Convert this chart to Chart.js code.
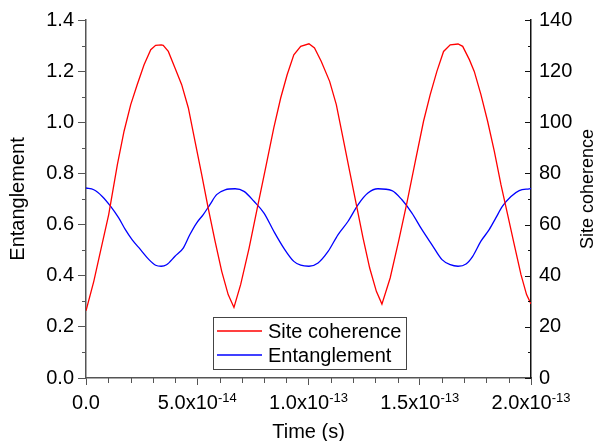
<!DOCTYPE html>
<html>
<head>
<meta charset="utf-8">
<script src="https://cdn.jsdelivr.net/npm/chart.js@4.4.0/dist/chart.umd.min.js"></script>
<style>
  body { margin: 0; background: #fff; }
  canvas { display: block; }
</style>
</head>
<body>
<canvas id="myChart" width="598" height="441"></canvas>
<script>
// Time in seconds
const coherenceTimes = [
  0, 0.35e-14, 0.65e-14, 1.02e-14, 1.41e-14, 1.71e-14, 2.01e-14, 2.30e-14, 2.61e-14, 2.91e-14,
  3.13e-14, 3.38e-14, 3.47e-14, 3.70e-14, 4.00e-14, 4.30e-14, 4.60e-14, 4.90e-14, 5.20e-14, 5.49e-14,
  5.80e-14, 6.10e-14, 6.39e-14, 6.65e-14, 6.95e-14, 7.33e-14, 7.70e-14, 8.07e-14, 8.44e-14, 8.75e-14,
  9.04e-14, 9.34e-14, 9.65e-14, 10.02e-14, 10.27e-14, 10.57e-14, 10.95e-14, 11.25e-14, 11.55e-14, 11.85e-14,
  12.15e-14, 12.45e-14, 12.75e-14, 13.05e-14, 13.30e-14, 13.67e-14, 14.05e-14, 14.42e-14, 14.80e-14, 15.17e-14,
  15.47e-14, 15.77e-14, 16.07e-14, 16.37e-14, 16.72e-14, 16.93e-14, 17.23e-14, 17.45e-14, 17.75e-14, 18.05e-14,
  18.35e-14, 18.65e-14, 18.95e-14, 19.25e-14, 19.55e-14, 19.80e-14, 20.0e-14
];
const coherenceValues = [
  26.3, 37.8, 49.5, 63.9, 83.4, 96.5, 106.9, 114.7, 122.5, 128.4,
  130.1, 130.3, 130.1, 127.7, 121.2, 114.7, 105.6, 92.5, 79.5, 66.5,
  53.5, 41.7, 32.6, 27.6, 36.5, 50.8, 66.5, 82.1, 97.8, 109.5,
  118.6, 126.4, 129.7, 130.7, 129.1, 123.9, 116.0, 106.9, 93.9, 80.8,
  67.8, 54.8, 43.0, 33.9, 28.9, 39.1, 53.5, 68.4, 84.7, 100.4,
  110.8, 119.9, 127.7, 130.3, 130.6, 129.7, 124.5, 119.9, 110.8, 100.4,
  88.7, 75.6, 63.9, 52.1, 40.4, 32.6, 29.0
];

const entanglementTimes = [
  0, 0.35e-14, 0.73e-14, 1.10e-14, 1.47e-14, 1.77e-14, 2.07e-14, 2.45e-14, 2.83e-14, 3.13e-14,
  3.38e-14, 3.62e-14, 4.00e-14, 4.37e-14, 4.67e-14, 4.97e-14, 5.27e-14, 5.57e-14, 5.87e-14, 6.25e-14,
  6.70e-14, 7.10e-14, 7.55e-14, 8.00e-14, 8.44e-14, 8.89e-14, 9.34e-14, 9.65e-14, 10.02e-14, 10.43e-14,
  10.88e-14, 11.33e-14, 11.78e-14, 12.23e-14, 12.67e-14, 13.12e-14, 13.75e-14, 14.20e-14, 14.65e-14, 15.10e-14,
  15.55e-14, 16.00e-14, 16.37e-14, 16.72e-14, 17.08e-14, 17.38e-14, 17.75e-14, 18.12e-14, 18.42e-14, 18.72e-14,
  19.10e-14, 19.47e-14, 19.92e-14, 20.0e-14
];
const entanglementValues = [
  0.743, 0.736, 0.710, 0.672, 0.626, 0.580, 0.541, 0.502, 0.463, 0.441,
  0.437, 0.443, 0.476, 0.508, 0.561, 0.606, 0.639, 0.678, 0.717, 0.736,
  0.740, 0.730, 0.691, 0.645, 0.574, 0.508, 0.456, 0.441, 0.437, 0.450,
  0.495, 0.561, 0.613, 0.678, 0.723, 0.740, 0.733, 0.697, 0.645, 0.580,
  0.521, 0.463, 0.443, 0.437, 0.446, 0.476, 0.535, 0.580, 0.626, 0.672,
  0.710, 0.733, 0.740, 0.741
];

// tick positions
const timeTicks = [0, 5e-14, 1e-13, 1.5e-13, 2e-13];
const timeMinorTicks = [1e-14, 2e-14, 3e-14, 4e-14, 6e-14, 7e-14, 8e-14, 9e-14,
  11e-14, 12e-14, 13e-14, 14e-14, 16e-14, 17e-14, 18e-14, 19e-14];
const entanglementTicks = [0, 0.2, 0.4, 0.6, 0.8, 1.0, 1.2, 1.4];
const entanglementMinorTicks = [0.1, 0.3, 0.5, 0.7, 0.9, 1.1, 1.3];
const coherenceTicks = [0, 20, 40, 60, 80, 100, 120, 140];
const coherenceMinorTicks = [10, 30, 50, 70, 90, 110, 130];

const FONT = 'Liberation Sans, Arial, sans-serif';
const axisGray = '#555555';

function toPoints(xs, ys) {
    return xs.map((t, i) => ({ x: t, y: ys[i] }));
}

function setTicks(values) {
    return function(scale) {
        scale.ticks = values.map(v => ({ value: v }));
    };
}

// minor ticks, inward ticks on the right axis, x labels with exponents, right title
const extras = {
    id: 'extras',
    afterDraw(chart) {
        const ctx = chart.ctx;
        const area = chart.chartArea;
        const xs = chart.scales.x, ys = chart.scales.y, y1 = chart.scales.y1;
        ctx.save();
        ctx.lineWidth = 1;

        ctx.strokeStyle = axisGray;
        entanglementMinorTicks.forEach(v => {
            const py = Math.round(ys.getPixelForValue(v)) + 0.5;
            ctx.beginPath(); ctx.moveTo(area.left - 4, py); ctx.lineTo(area.left, py); ctx.stroke();
        });
        timeMinorTicks.forEach(v => {
            const px = Math.round(xs.getPixelForValue(v)) + 0.5;
            ctx.beginPath(); ctx.moveTo(px, area.bottom); ctx.lineTo(px, area.bottom + 5); ctx.stroke();
        });

        ctx.strokeStyle = '#111';
        coherenceTicks.forEach(v => {
            const py = Math.round(y1.getPixelForValue(v)) + 0.5;
            ctx.beginPath(); ctx.moveTo(area.right - 6, py); ctx.lineTo(area.right, py); ctx.stroke();
        });
        coherenceMinorTicks.forEach(v => {
            const py = Math.round(y1.getPixelForValue(v)) + 0.5;
            ctx.beginPath(); ctx.moveTo(area.right - 3, py); ctx.lineTo(area.right, py); ctx.stroke();
        });

        // x tick labels like 5.0x10^-14
        ctx.fillStyle = '#000';
        ctx.textBaseline = 'alphabetic';
        ctx.textAlign = 'left';
        timeTicks.forEach(v => {
            const px = xs.getPixelForValue(v);
            let main, sup = '';
            if (v === 0) {
                main = '0.0';
            } else {
                const exp = Math.floor(Math.log10(v) + 1e-9);
                main = (v / Math.pow(10, exp)).toFixed(1) + 'x10';
                sup = String(exp);
            }
            ctx.font = '20px ' + FONT;
            const wMain = ctx.measureText(main).width;
            ctx.font = '13px ' + FONT;
            const wSup = sup ? ctx.measureText(sup).width : 0;
            const start = px - (wMain + wSup) / 2;
            ctx.font = '20px ' + FONT;
            ctx.fillText(main, start, 409);
            if (sup) {
                ctx.font = '13px ' + FONT;
                ctx.fillText(sup, start + wMain, 402);
            }
        });

        // legend box
        const lg = { left: 213.5, top: 317.5, w: 193, h: 52 };
        ctx.strokeStyle = '#444';
        ctx.lineWidth = 1;
        ctx.strokeRect(lg.left, lg.top, lg.w, lg.h);
        ctx.font = '20px ' + FONT;
        ctx.textBaseline = 'middle';
        chart.data.datasets.forEach((ds, i) => {
            const yy = 331 + i * 24;
            ctx.strokeStyle = ds.borderColor;
            ctx.lineWidth = 1.5;
            ctx.beginPath(); ctx.moveTo(217, yy); ctx.lineTo(262, yy); ctx.stroke();
            ctx.fillStyle = '#000';
            ctx.fillText(ds.label, 268, yy + 1);
        });

        // right axis title, reads bottom to top
        ctx.save();
        ctx.translate(588, 189);
        ctx.rotate(-Math.PI / 2);
        ctx.font = '18px ' + FONT;
        ctx.textAlign = 'center';
        ctx.textBaseline = 'middle';
        ctx.fillStyle = '#000';
        ctx.fillText('Site coherence', 0, 0);
        ctx.restore();

        ctx.restore();
    }
};

const ctx = document.getElementById('myChart').getContext('2d');
new Chart(ctx, {
    type: 'line',
    data: {
        datasets: [{
            label: 'Site coherence',
            data: toPoints(coherenceTimes, coherenceValues),
            borderColor: '#ff0000',
            borderWidth: 1.3,
            pointRadius: 0,
            tension: 0,
            yAxisID: 'y1'
        }, {
            label: 'Entanglement',
            data: toPoints(entanglementTimes, entanglementValues),
            borderColor: '#0000ff',
            borderWidth: 1.3,
            pointRadius: 0,
            cubicInterpolationMode: 'monotone',
            yAxisID: 'y'
        }]
    },
    options: {
        responsive: false,
        animation: false,
        layout: { padding: { top: 20, left: 0, right: 0, bottom: 0 } },
        plugins: {
            legend: { display: false },
            tooltip: { enabled: false }
        },
        scales: {
            x: {
                type: 'linear',
                min: 0,
                max: 2e-13,
                afterBuildTicks: setTicks(timeTicks),
                afterFit(scale) { scale.height = 63; },
                ticks: { display: false },
                grid: { drawOnChartArea: false, drawTicks: true, tickLength: 7, color: axisGray },
                border: { display: true, color: axisGray, width: 1.5 },
                title: {
                    display: true,
                    text: 'Time (s)',
                    color: '#000',
                    font: { family: FONT, size: 20, lineHeight: 0.9 },
                    padding: { top: 0, bottom: 0 }
                }
            },
            y: {
                position: 'left',
                min: 0,
                max: 1.4,
                afterBuildTicks: setTicks(entanglementTicks),
                afterFit(scale) { scale.width = 86; },
                ticks: {
                    color: '#000',
                    padding: 4,
                    font: { family: FONT, size: 20 },
                    callback: v => v.toFixed(1)
                },
                grid: { drawOnChartArea: false, drawTicks: true, tickLength: 8, color: axisGray },
                border: { display: true, color: axisGray, width: 1.5 },
                title: {
                    display: true,
                    text: 'Entanglement',
                    color: '#000',
                    font: { family: FONT, size: 20 },
                    padding: { top: 6, bottom: 0 }
                }
            },
            y1: {
                position: 'right',
                min: 0,
                max: 140,
                afterBuildTicks: setTicks(coherenceTicks),
                afterFit(scale) { scale.width = 67; },
                ticks: {
                    color: '#000',
                    padding: 8,
                    font: { family: FONT, size: 20 },
                    callback: v => String(v)
                },
                grid: { drawOnChartArea: false, drawTicks: false },
                border: { display: true, color: '#111', width: 1.5 }
            }
        }
    },
    plugins: [extras]
});
</script>
</body>
</html>
